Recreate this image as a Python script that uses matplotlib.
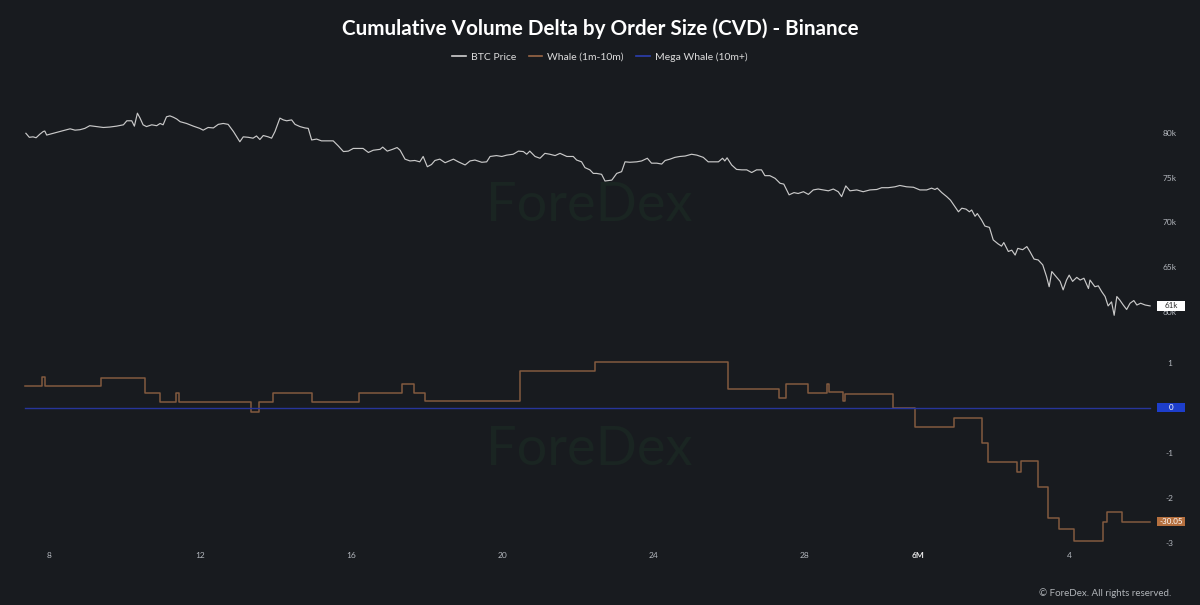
import matplotlib.pyplot as plt
from matplotlib.patches import Rectangle

# BTC price (day index, price in k)
price_days = [7.39, 7.48, 7.58, 7.66, 7.76, 7.85, 7.89, 7.94, 8.07, 8.20, 8.38, 8.56, 8.69, 8.82, 8.95,
              9.08, 9.26, 9.44, 9.61, 9.79, 9.97, 10.06, 10.19, 10.26, 10.34, 10.41, 10.49, 10.58, 10.72,
              10.85, 10.94, 11.02, 11.11, 11.20, 11.29, 11.38, 11.47, 11.64, 11.82, 11.99, 12.08, 12.21,
              12.35, 12.48, 12.61, 12.74, 12.88, 13.05, 13.14, 13.27, 13.40, 13.49, 13.58, 13.67, 13.80,
              13.89, 13.98, 14.11, 14.20, 14.29, 14.42, 14.51, 14.64, 14.77, 14.86, 14.95, 15.08, 15.21,
              15.52, 15.65, 15.79, 15.92, 16.05, 16.31, 16.45, 16.58, 16.76, 16.83, 16.95, 17.09, 17.21,
              17.29, 17.42, 17.55, 17.68, 17.81, 17.90, 18.01, 18.12, 18.21, 18.34, 18.48, 18.70, 18.83,
              19.01, 19.14, 19.27, 19.45, 19.58, 19.67, 19.84, 19.98, 20.11, 20.28, 20.42, 20.55, 20.64,
              20.72, 20.86, 20.99, 21.12, 21.25, 21.39, 21.52, 21.70, 21.87, 21.96, 22.09, 22.18, 22.31,
              22.40, 22.49, 22.62, 22.71, 22.89, 23.02, 23.15, 23.24, 23.37, 23.55, 23.68, 23.83, 23.94,
              24.08, 24.21, 24.30, 24.43, 24.56, 24.69, 24.83, 25.00, 25.14, 25.31, 25.44, 25.57, 25.71,
              25.82, 25.88, 25.94, 26.06, 26.19, 26.33, 26.46, 26.59, 26.72, 26.85, 26.94, 27.07, 27.21,
              27.34, 27.44, 27.58, 27.71, 27.82, 27.96, 28.09, 28.22, 28.35, 28.48, 28.62, 28.75, 28.88,
              28.97, 29.08, 29.19, 29.37, 29.54, 29.72, 29.90, 30.03, 30.20, 30.38, 30.51, 30.69, 30.87,
              31.04, 31.22, 31.35, 31.44, 31.50, 31.62, 31.75, 31.85, 31.94, 32.06, 32.15, 32.26, 32.35,
              32.41, 32.50, 32.56, 32.67, 32.76, 32.88, 32.98, 33.11, 33.20, 33.26, 33.38, 33.47, 33.56,
              33.63, 33.76, 33.87, 33.95, 34.06, 34.17, 34.29, 34.39, 34.46, 34.53, 34.64, 34.75, 34.83,
              34.92, 34.99, 35.08, 35.19, 35.28, 35.38, 35.50, 35.54, 35.67, 35.76, 35.85, 35.94, 36.02,
              36.11, 36.18, 36.25, 36.33, 36.42, 36.51, 36.60, 36.70, 36.78, 36.88, 37.00, 37.13]
price_k = [80.0, 79.55, 79.6, 79.5, 79.9, 80.2, 80.25, 79.8, 79.95, 80.1, 80.3, 80.5, 80.35, 80.4, 80.55,
           80.85, 80.75, 80.65, 80.7, 80.8, 80.95, 81.4, 81.4, 80.8, 82.25, 81.7, 80.95, 80.75, 80.95,
           80.85, 81.1, 80.95, 81.85, 81.95, 81.8, 81.6, 81.3, 81.1, 80.8, 80.55, 80.35, 80.65,
           80.6, 81.0, 81.1, 81.0, 80.2, 79.05, 79.6, 79.55, 79.45, 79.7, 79.3, 79.75, 79.6,
           79.45, 80.2, 81.7, 81.5, 81.4, 81.5, 81.0, 80.75, 80.6, 80.55, 79.25, 79.35, 79.15,
           79.15, 78.6, 77.95, 78.0, 78.3, 78.3, 77.85, 78.1, 78.2, 78.45, 78.0, 78.2, 78.4,
           78.1, 77.1, 76.9, 76.95, 76.8, 77.4, 76.25, 76.5, 76.95, 77.1, 76.7, 77.1, 76.8,
           76.45, 76.9, 77.0, 76.75, 76.8, 77.4, 77.5, 77.4, 77.55, 77.65, 78.0, 77.95, 77.65,
           78.0, 77.4, 77.2, 77.75, 77.65, 77.5, 77.75, 77.4, 77.4, 77.0, 76.8, 76.15, 75.9,
           75.5, 75.5, 75.4, 74.65, 74.75, 75.5, 75.7, 76.8, 76.75, 76.8, 76.9, 77.2, 76.65,
           76.65, 76.55, 76.95, 77.1, 77.3, 77.4, 77.45, 77.65, 77.55, 77.3, 76.8, 76.8, 76.8,
           77.2, 76.9, 77.25, 76.45, 75.95, 75.9, 75.9, 75.6, 75.9, 75.9, 75.25, 75.25, 74.95,
           74.4, 74.3, 73.1, 73.35, 73.25, 73.45, 73.15, 73.65, 73.75, 73.65, 73.55, 73.75, 73.45,
           72.9, 74.1, 73.55, 73.65, 73.45, 73.65, 73.7, 73.9, 73.9, 74.0, 74.15, 74.0, 73.95,
           73.65, 73.65, 73.85, 73.7, 73.85, 73.35, 72.9, 72.5, 71.95, 71.2, 71.6, 71.5, 71.2,
           71.4, 70.7, 71.0, 70.3, 69.6, 69.45, 68.05, 67.6, 67.35, 67.75, 66.75, 66.9, 66.35,
           67.1, 66.95, 67.3, 66.75, 65.9, 65.8, 65.25, 63.95, 62.8, 64.5, 63.95, 63.4, 62.45,
           63.55, 64.1, 63.4, 63.85, 63.55, 63.75, 62.6, 63.55, 62.8, 62.9, 62.25, 61.7, 60.65,
           61.1, 59.6, 61.7, 61.3, 60.75, 60.25, 60.95, 61.25, 60.75, 60.95, 60.75, 60.65]

# Whale CVD (step changes)
whale_days = [7.36, 7.82, 7.90, 9.39, 10.55, 10.94, 11.36, 11.43, 13.34, 13.57, 13.94, 14.96, 16.19,
              17.33, 17.67, 17.94, 20.47, 22.44, 25.97, 27.31, 27.49, 28.07, 28.57, 28.63, 29.00,
              29.06, 30.32, 30.90, 31.94, 32.68, 32.85, 33.61, 33.71, 34.17, 34.42, 34.72, 35.11,
              35.89, 35.99, 36.40, 37.13]
whale_cvd = [0.49, 0.675, 0.49, 0.67, 0.32, 0.12, 0.32, 0.12, -0.10, 0.13, 0.33, 0.12, 0.32,
             0.53, 0.33, 0.15, 0.82, 1.02, 0.415, 0.22, 0.53, 0.33, 0.53, 0.34, 0.14,
             0.31, 0.0, -0.42, -0.22, -0.79, -1.21, -1.42, -1.18, -1.76, -2.44, -2.70, -2.96,
             -2.55, -2.31, -2.53, -2.53]

mega_days = [7.36, 37.13]
mega_cvd = [0.0, 0.0]

x_ticks = [8, 12, 16, 20, 24, 28, 31, 35]
x_labels = ["8", "12", "16", "20", "24", "28", "6M", "4"]
price_ticks = [60, 65, 70, 75, 80]
price_labels = ["60k", "65k", "70k", "75k", "80k"]
cvd_ticks = [1, 0, -1, -2, -3]

BG = "#181b1f"
PRICE_C = "#c9c9c9"
WHALE_C = "#835a3f"
MEGA_C = "#27359a"
TICK_C = "#b4b8be"
MARK_C = "#1a2522"

plt.rcParams["font.family"] = ["Lato", "DejaVu Sans"]

fig = plt.figure(figsize=(12, 6.05), dpi=100, facecolor=BG)
ax1 = fig.add_axes([0.02, 1 - 325 / 605, 0.9425, 225 / 605])
ax2 = fig.add_axes([0.02, 1 - 550 / 605, 0.9425, 205 / 605])

xlim = (7.34, 37.26)
for ax in (ax1, ax2):
    ax.set_facecolor(BG)
    for s in ax.spines.values():
        s.set_visible(False)
    ax.set_xlim(*xlim)
    ax.yaxis.tick_right()
    ax.tick_params(axis="y", length=0, pad=10.4, labelsize=6, labelcolor=TICK_C)
    ax.tick_params(axis="x", length=0, pad=1.5, labelsize=6, labelcolor=TICK_C)

ax1.plot(price_days, price_k, color=PRICE_C, lw=0.85)
ax1.set_ylim(58.51, 83.73)
ax1.set_yticks(price_ticks)
ax1.set_yticklabels(price_labels, ha="center")
ax1.set_xticks([])
ax1.text(0.5, 0.53, "ForeDex", transform=ax1.transAxes, ha="center", va="center",
         fontsize=39, color=MARK_C, zorder=0)

ax2.step(whale_days, whale_cvd, where="post", color=WHALE_C, lw=1.1)
ax2.plot(mega_days, mega_cvd, color=MEGA_C, lw=1.0)
ax2.set_ylim(-3.162, 1.393)
ax2.set_yticks(cvd_ticks)
ax2.set_yticklabels([str(t) for t in cvd_ticks], ha="center")
ax2.set_xticks(x_ticks)
ax2.set_xticklabels(x_labels)
for lab in ax2.get_xticklabels():
    if lab.get_text() == "6M":
        lab.set_fontweight("bold")
        lab.set_color("#e6e6e6")
ax2.text(0.5, 0.49, "ForeDex", transform=ax2.transAxes, ha="center", va="center",
         fontsize=39, color=MARK_C, zorder=0)


def value_tag(ax, val, text, fc, tc):
    # fixed-size label box at the right edge, centred on the series' last value
    y = ax.transData.transform((0, val))[1] / fig.bbox.height
    fig.patches.append(Rectangle((1157 / 1200, y - 4.7 / 605), 28 / 1200, 9.4 / 605,
                                 transform=fig.transFigure, fc=fc, ec="none", zorder=5))
    fig.text(1171 / 1200, y, text, ha="center", va="center", fontsize=5.8, color=tc, zorder=6)


value_tag(ax1, price_k[-1], "61k", "white", "#2a2a2a")
value_tag(ax2, mega_cvd[-1], "0", "#1d3ecb", "white")
value_tag(ax2, whale_cvd[-1], "-30.05", "#b5703f", "white")

fig.suptitle("Cumulative Volume Delta by Order Size (CVD) - Binance", y=0.969,
             fontsize=14.9, color="white", fontweight="bold")

h1, = ax1.plot([], [], color="#d0d0d0", lw=1.2, label="BTC Price")
h2, = ax1.plot([], [], color="#9a6746", lw=1.2, label="Whale (1m-10m)")
h3, = ax1.plot([], [], color="#2c3fb0", lw=1.2, label="Mega Whale (10m+)")
leg = fig.legend(handles=[h1, h2, h3], loc="center", bbox_to_anchor=(0.5, 1 - 57 / 605),
                 ncol=3, frameon=False, fontsize=7.5, handlelength=1.3, columnspacing=1.2,
                 handletextpad=0.5)
for t in leg.get_texts():
    t.set_color("#dcdcdc")

fig.text(1171 / 1200, 1 - 593 / 605, "© ForeDex. All rights reserved.", ha="right",
         va="center", fontsize=7, color="#b0b4b8")

fig.savefig("out.png", dpi=100, facecolor=BG)
